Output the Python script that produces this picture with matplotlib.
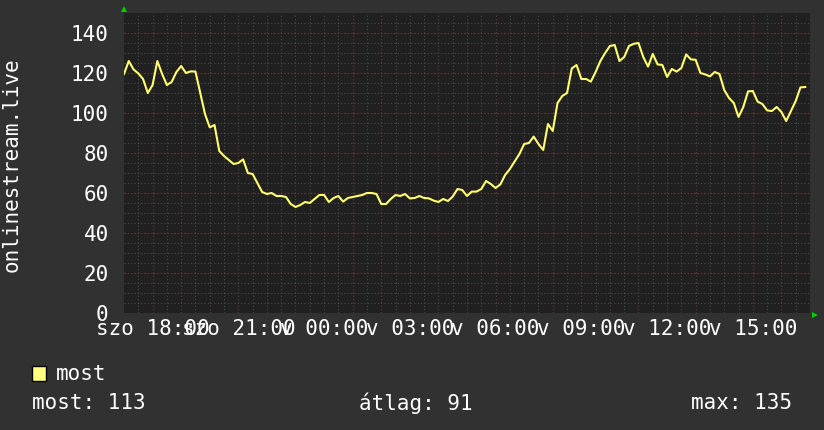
import numpy as np
import matplotlib
matplotlib.use('Agg')
import matplotlib.pyplot as plt
from matplotlib.patches import Rectangle

# hallgatók száma, 10 perces minták szombat 17:00-tól
step_min = 10
listeners = [
    119.5, 126, 121.8, 119.8, 117, 110, 114, 126, 119.5, 114,
    115.5, 120.5, 123.5, 120, 120.8, 120.7, 110, 99.5, 92.8, 94,
    81, 78.5, 76.5, 74.5, 75, 76.8, 70, 69.5, 65, 60.5,
    59.5, 60, 58.5, 58.5, 58, 54.5, 53, 54, 55.5, 55,
    57, 59, 59, 55.5, 57.5, 58.5, 55.7, 57.5, 58, 58.5,
    59, 60, 60, 59.5, 54.5, 54.5, 57, 59, 58.5, 59.5,
    57.3, 57.5, 58.5, 57.5, 57.3, 56.2, 55.5, 57, 56, 58.2,
    62, 61.5, 58.5, 60.7, 60.7, 62, 66, 64.5, 62.5, 64.3,
    69, 72, 75.7, 79.5, 84.5, 85, 88.2, 84.5, 81.5, 94.5,
    91, 105, 108.5, 110, 122.3, 124, 117, 117, 115.7, 120.5,
    126, 130, 133.5, 134, 126, 128, 133.5, 134.6, 135, 128,
    123.2, 129.5, 124.3, 124, 118, 122, 120.7, 122.5, 129.3, 126.8,
    126.6, 120, 119.3, 118.3, 120.5, 119.5, 111.5, 107.5, 105, 98,
    103, 110.8, 111, 105.7, 104.5, 101.3, 101, 103, 100.5, 96,
    101, 106, 112.8, 113,
]
hours = np.arange(len(listeners)) * step_min / 60.0

tick_hours = [1, 4, 7, 10, 13, 16, 19, 22]
tick_labels = ['szo 18:00', 'szo 21:00', 'v 00:00', 'v 03:00',
               'v 06:00', 'v 09:00', 'v 12:00', 'v 15:00']
y_ticks = [0, 20, 40, 60, 80, 100, 120, 140]

series_name = 'most'
cur_val, avg_val, max_val = 113, 91, 135

W, H = 824, 430
mono = 'DejaVu Sans Mono'
fs = 15

fig = plt.figure(figsize=(W / 100, H / 100), dpi=100)
fig.patch.set_facecolor('#313131')
ax = fig.add_axes([124 / W, (H - 313) / H, 686 / W, 300 / H])
ax.set_facecolor('#202020')
for s in ax.spines.values():
    s.set_visible(False)

ax.set_xlim(0, 24)
ax.set_ylim(0, 150)

dots = (0, (1, 2))
for yv in np.arange(5, 150, 5):
    ax.axhline(yv, color='#4a4a4a', lw=0.8, ls=dots, zorder=1)
for xv in np.arange(0.5, 24, 0.5):
    ax.axvline(xv, color='#4a4a4a', lw=0.8, ls=dots, zorder=1)
for yv in np.arange(20, 150, 20):
    ax.axhline(yv, color='#6e3434', lw=0.8, ls=dots, zorder=2)
for xv in np.arange(1, 24, 1):
    ax.axvline(xv, color='#5a3535', lw=0.8, ls=dots, zorder=2)

ax.plot(hours, listeners, color='#ffff70', lw=1.5, zorder=5)

ax.set_xticks(tick_hours)
ax.set_xticklabels(tick_labels, family=mono, fontsize=fs, color='white')
ax.set_yticks(y_ticks)
ax.set_yticklabels([str(v) for v in y_ticks], family=mono, fontsize=fs,
                   color='white')
ax.tick_params(axis='y', length=0, pad=11)
ax.tick_params(axis='x', length=0, pad=4)

# kis zöld nyilak a tengelyek végén
ax.plot([0], [1.012], marker='^', color='#00d000', ms=4, mew=0,
        transform=ax.transAxes, clip_on=False)
ax.plot([1.007], [-0.006], marker='>', color='#00d000', ms=4, mew=0,
        transform=ax.transAxes, clip_on=False)

fig.text(12 / W, 1 - 165 / H, 'onlinestream.live', rotation=90,
         ha='center', va='center', family=mono, fontsize=fs, color='white')

fig.patches.append(Rectangle((32 / W, (H - 381) / H), 14 / W, 15 / H,
                             facecolor='#ffff80', edgecolor='black', lw=1,
                             transform=fig.transFigure))
fig.text(56 / W, 1 - 374 / H, series_name, ha='left', va='center',
         family=mono, fontsize=fs, color='white')
fig.text(32 / W, 1 - 403 / H, 'most: %d' % cur_val, ha='left', va='center',
         family=mono, fontsize=fs, color='white')
fig.text(359 / W, 1 - 403 / H, 'átlag: %d' % avg_val, ha='left', va='center',
         family=mono, fontsize=fs, color='white')
fig.text(792 / W, 1 - 403 / H, 'max: %d' % max_val, ha='right', va='center',
         family=mono, fontsize=fs, color='white')

fig.savefig('out.png', dpi=100, facecolor=fig.get_facecolor())
